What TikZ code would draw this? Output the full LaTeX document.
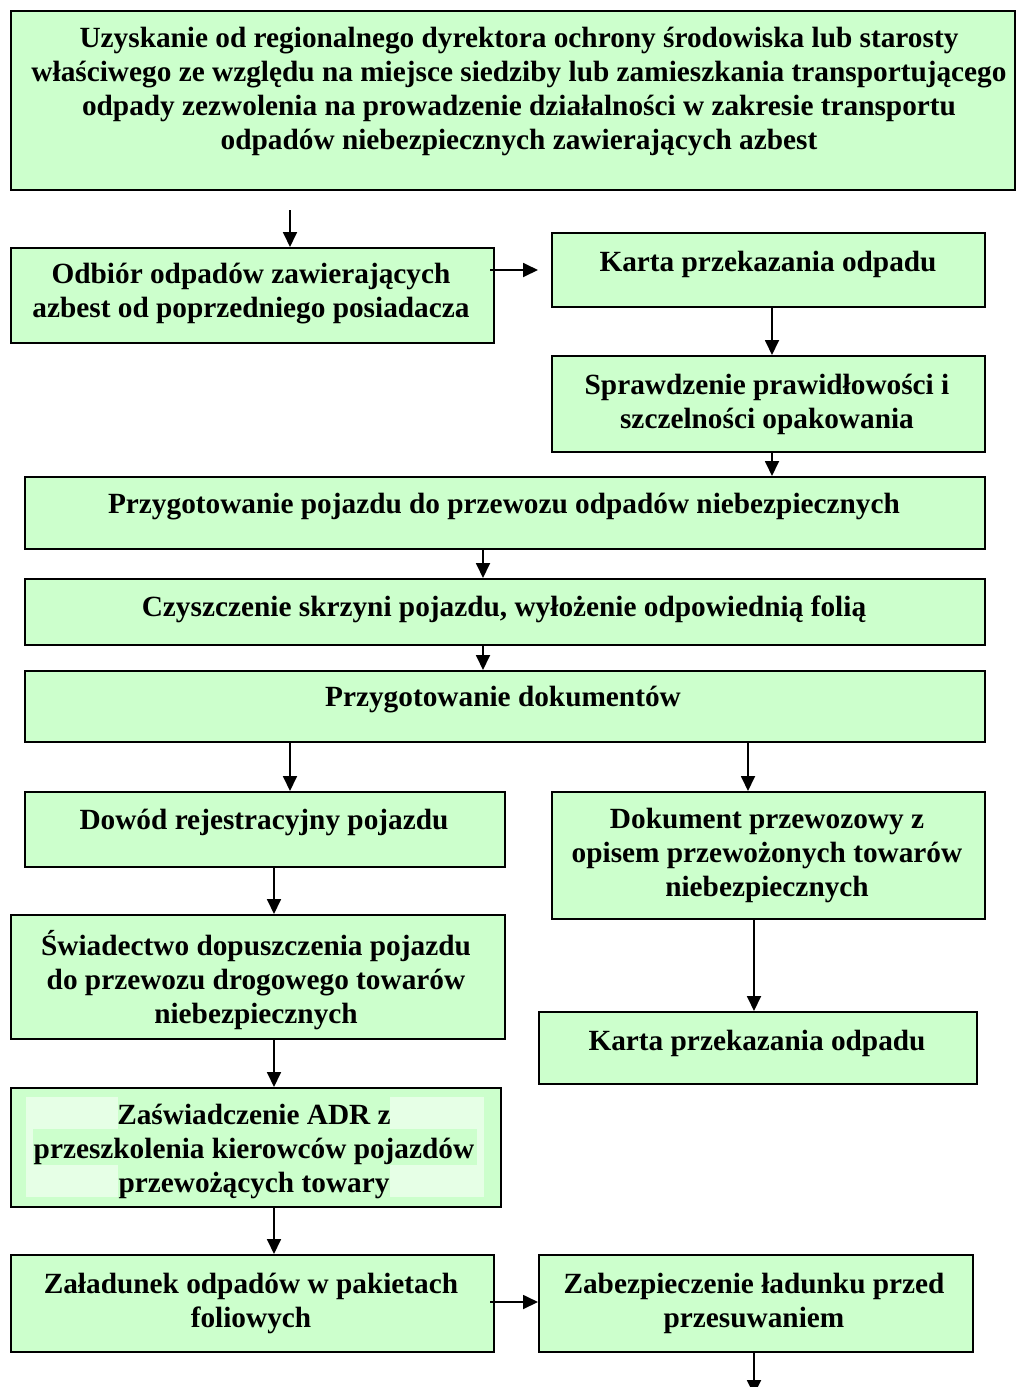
\documentclass[tikz,border=0pt]{standalone}
\usepackage{fontspec}
\setmainfont{Liberation Serif}
\usetikzlibrary{arrows.meta}
\definecolor{boxgreen}{HTML}{CCFFCC}
\definecolor{lightgreen}{HTML}{E6FFE6}
\tikzset{
  box/.style={draw=black, line width=1.8pt, fill=boxgreen, rectangle, inner sep=0pt, anchor=north west},
  txt/.style={align=center, inner sep=0pt, font=\bfseries\fontsize{29.3}{34}\selectfont},
  arr/.style={line width=1.8pt, -{Triangle[length=15pt,width=14pt]}}
}
\newcommand{\bx}[5]{\node[box, minimum width=#3pt, minimum height=#4pt] (#5) at (#1,#2) {};}
\begin{document}
\begin{tikzpicture}[x=1pt,y=-1pt]
\useasboundingbox (0,0) rectangle (1015,1387);
\fill[white] (0,0) rectangle (1015,1387);
% boxes: x, y, w, h
\bx{10}{10}{1004}{179}{top}
\bx{10}{247}{483}{95}{odbior}
\bx{551}{232}{433}{74}{kartaA}
\bx{551}{355}{433}{96}{sprawdz}
\bx{24}{476}{960}{72}{przyg}
\bx{24}{578}{960}{66}{czysz}
\bx{24}{670}{960}{71}{dok}
\bx{24}{791}{480}{75}{dowod}
\bx{551}{791}{433}{127}{przewoz}
\bx{10}{914}{494}{124}{swiad}
\bx{538}{1011}{438}{72}{kartaB}
\bx{10}{1087}{490}{119}{adr}
\bx{10}{1254}{483}{97}{zaladunek}
\bx{538}{1254}{434}{97}{zabezp}
% ADR shading
\fill[lightgreen] (26,1097) rectangle (484,1197);
\fill[boxgreen] (118,1097) rectangle (390,1129);
\fill[boxgreen] (33,1129) rectangle (477,1165);
\fill[boxgreen] (118,1165) rectangle (390,1197);
% texts
\node[txt] (topT) at (519,92) {\resizebox{975pt}{\height}{\begin{tabular}{@{}c@{}}Uzyskanie od regionalnego dyrektora ochrony środowiska lub starosty\\ właściwego ze względu na miejsce siedziby lub zamieszkania transportującego\\ odpady zezwolenia na prowadzenie działalności w zakresie transportu\\ odpadów niebezpiecznych zawierających azbest\end{tabular}}};
\node[txt] (odbiorT) at (251,294) {Odbiór odpadów zawierających\\ azbest od poprzedniego posiadacza};
\node[txt] (kartaAT) at (768,264) {Karta przekazania odpadu};
\node[txt] (sprawdzT) at (767,404) {Sprawdzenie prawidłowości i\\ szczelności opakowania};
\node[txt] (przygT) at (504,507) {Przygotowanie pojazdu do przewozu odpadów niebezpiecznych};
\node[txt] (czyszT) at (504,609) {Czyszczenie skrzyni pojazdu, wyłożenie odpowiednią folią};
\node[txt] (dokT) at (503,700) {Przygotowanie dokumentów};
\node[txt] (dowodT) at (264,822) {Dowód rejestracyjny pojazdu};
\node[txt] (przewozT) at (767,855) {Dokument przewozowy z\\ opisem przewożonych towarów\\ niebezpiecznych};
\node[txt] (swiadT) at (256,980) {Świadectwo dopuszczenia pojazdu\\ do przewozu drogowego towarów\\ niebezpiecznych};
\node[txt] (kartaBT) at (757,1043) {Karta przekazania odpadu};
\node[txt] (adrT) at (254,1151) {Zaświadczenie ADR z\\ przeszkolenia kierowców pojazdów\\ przewożących towary};
\node[txt] (zaladunekT) at (251,1303) {Załadunek odpadów w pakietach\\ foliowych};
\node[txt] (zabezpT) at (754,1303) {Zabezpieczenie ładunku przed\\ przesuwaniem};
% free ends
\coordinate (topOut) at (290,210);
\coordinate (odbOut) at (490,270);
\coordinate (kartaIn) at (538,270);
\coordinate (zalOut) at (490,1302);
\coordinate (zabIn) at (538,1302);
\coordinate (bottomEnd) at (754,1395);
% connectors
\draw[arr] (topOut) -- (odbior.north -| topOut);
\draw[arr] (odbOut) -- (kartaIn);
\draw[arr] (kartaA.south -| 772,0) -- (sprawdz.north -| 772,0);
\draw[arr] (sprawdz.south -| 772,0) -- (przyg.north -| 772,0);
\draw[arr] (przyg.south -| 483,0) -- (czysz.north -| 483,0);
\draw[arr] (czysz.south -| 483,0) -- (dok.north -| 483,0);
\draw[arr] (dok.south -| 290,0) -- (dowod.north -| 290,0);
\draw[arr] (dok.south -| 748,0) -- (przewoz.north -| 748,0);
\draw[arr] (dowod.south -| 274,0) -- (swiad.north -| 274,0);
\draw[arr] (przewoz.south -| 754,0) -- (kartaB.north -| 754,0);
\draw[arr] (swiad.south -| 274,0) -- (adr.north -| 274,0);
\draw[arr] (adr.south -| 274,0) -- (zaladunek.north -| 274,0);
\draw[arr] (zalOut) -- (zabIn);
\draw[arr] (zabezp.south -| bottomEnd) -- (bottomEnd);
\end{tikzpicture}
\end{document}
